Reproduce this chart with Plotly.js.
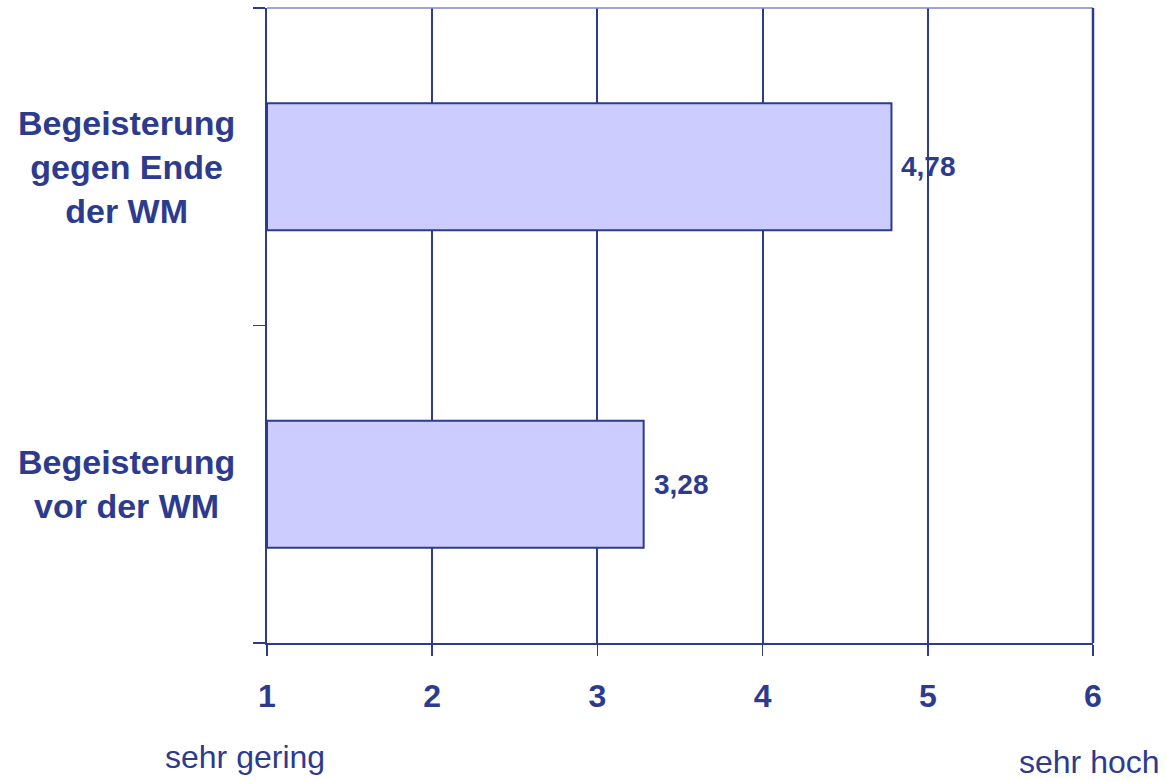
<!DOCTYPE html>
<html>
<head>
<meta charset="utf-8">
<script src="https://cdn.plot.ly/plotly-3.0.1.min.js"></script>
<style>html,body{margin:0;padding:0;background:#fff;}#chart{width:1167px;height:781px;}</style>
</head>
<body>
<div id="chart"></div>
<script>
// Data
const categories = ["vor", "ende"];
const categoryLabels = ["Begeisterung<br>vor der WM", "Begeisterung<br>gegen Ende<br>der WM"];
const values = [3.28, 4.78];
const valueLabels = ["3,28", "4,78"];
const xTicks = [1, 2, 3, 4, 5, 6];
const scaleLow = "sehr gering";
const scaleHigh = "sehr hoch";

const NAVY = "#2D3B8E";
const FONT = "Liberation Sans, Arial, sans-serif";

const trace = {
  type: "bar",
  orientation: "h",
  y: categories,
  x: values.map(v => v - 1),
  base: 1,
  width: 0.4,
  marker: { color: "#CCCCFF", line: { color: NAVY, width: 2 } },
  hoverinfo: "none"
};

const annotations = [];
categories.forEach((c, i) => {
  annotations.push({
    xref: "paper", yref: "y", x: -0.170, y: c,
    text: "<b>" + categoryLabels[i] + "</b>", showarrow: false,
    xanchor: "center", yanchor: "middle", align: "center",
    font: { family: FONT, size: 34, color: NAVY }
  });
  annotations.push({
    xref: "x", yref: "y", x: values[i], y: c, xshift: 8,
    text: "<b>" + valueLabels[i] + "</b>", showarrow: false,
    xanchor: "left", yanchor: "middle",
    font: { family: FONT, size: 28, color: NAVY }
  });
});
annotations.push({
  xref: "paper", yref: "paper", x: -0.0266, y: -0.1795, text: scaleLow, showarrow: false,
  xanchor: "center", yanchor: "middle", font: { family: FONT, size: 32, color: NAVY }
});
annotations.push({
  xref: "paper", yref: "paper", x: 0.9958, y: -0.187, text: scaleHigh, showarrow: false,
  xanchor: "center", yanchor: "middle", font: { family: FONT, size: 32, color: NAVY }
});

const layout = {
  width: 1167, height: 781,
  margin: { l: 267, r: 74, t: 8, b: 138 },
  paper_bgcolor: "#fff", plot_bgcolor: "#fff",
  showlegend: false,
  xaxis: {
    range: [1, 6], tickvals: xTicks, ticktext: xTicks.map(t => "<b>" + t + "</b>"),
    showgrid: true, gridcolor: NAVY, gridwidth: 2, zeroline: false,
    showline: true, linecolor: NAVY, linewidth: 2,
    ticks: "outside", ticklen: 11, tickcolor: NAVY, tickwidth: 1.5,
    ticklabelstandoff: 13,
    tickfont: { family: FONT, size: 32, color: NAVY },
    fixedrange: true
  },
  yaxis: {
    type: "category", categoryorder: "array", categoryarray: categories,
    range: [-0.5, 1.5], tickson: "boundaries",
    showgrid: false, zeroline: false,
    showline: true, linecolor: NAVY, linewidth: 2,
    ticks: "outside", ticklen: 12, tickcolor: NAVY, tickwidth: 1.5,
    showticklabels: false, fixedrange: true
  },
  shapes: [{
    type: "line", xref: "paper", yref: "paper", x0: 0, x1: 1, y0: 1, y1: 1,
    line: { color: "#7D88C4", width: 1.5 }
  }, {
    type: "line", xref: "paper", yref: "paper", x0: 1, x1: 1, y0: 0, y1: 1,
    line: { color: NAVY, width: 2.5 }
  }],
  annotations: annotations
};

Plotly.newPlot("chart", [trace], layout, { staticPlot: true, displayModeBar: false });
</script>
</body>
</html>
